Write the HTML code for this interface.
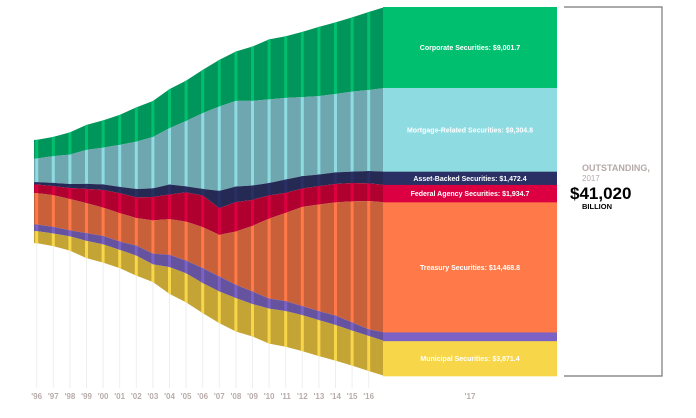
<!DOCTYPE html>
<html><head><meta charset="utf-8"><style>
body{margin:0;background:#fff;}
svg{display:block;font-family:"Liberation Sans",sans-serif;}
</style></head><body>
<svg id="chart" width="696" height="418">
<g id="grid"></g><g id="areas"></g><g id="stripes"></g><g id="block"></g><g id="xlabels"></g>
<g stroke="#777" stroke-width="1.2" fill="none">
<polyline points="564,7 662,7 662,376 564,376"/></g>
<text x="582" y="171" font-size="9" font-weight="bold" fill="#b5aaa8">OUTSTANDING,</text>
<text x="582" y="181" font-size="8" fill="#b5aaa8">2017</text>
<text x="570" y="199" font-size="17" font-weight="bold" fill="#000">$41,020</text>
<text x="582" y="209" font-size="7.5" font-weight="bold" fill="#000">BILLION</text>
</svg>
<script>
const years=["'96","'97","'98","'99","'00","'01","'02","'03","'04","'05","'06","'07","'08","'09","'10","'11","'12","'13","'14","'15","'16","'17"];
const seriesNames=["Corporate Securities","Mortgage-Related Securities","Asset-Backed Securities","Federal Agency Securities","Treasury Securities","Money Market","Municipal Securities"];
const corporate=[2075,2149,2482,2779,3038,3335,3816,4001,4335,4483,4817,5187,5483,6039,6669,6854,7262,7706,7966,8262,8670,9001.7];
const mortgage=[2631,2964,3260,3779,4076,4668,5261,5706,6261,7262,8410,9374,9522,9411,9300,9077,8781,8707,8707,8892,9003,9304.8];
const assetBacked=[259,371,445,556,630,704,926,963,1112,667,741,1927,1741,1593,1371,1482,1371,1297,1297,1260,1371,1472.4];
const agency=[963,1000,1223,1593,1964,2223,2297,2594,2742,3260,3520,2964,3260,2890,2594,2223,2038,2038,2038,2038,1964,1934.7];
const treasury=[3483,3520,3483,3335,3149,3149,3075,3705,3964,4335,4557,4631,5928,7299,8892,9818,11041,11856,12597,13449,14264,14468.8];
const moneyMarket=[741,741,667,852,926,926,1112,1186,1371,1408,1667,1667,1482,1408,1112,1112,1000,1000,1037,926,741,966.2];
const municipal=[1334,1408,1593,1927,2038,2038,2223,1964,2964,3223,3335,3520,3705,3594,3890,3964,4001,4001,3964,3890,3890,3871.4];
const labels=["Corporate Securities: $9,001.7","Mortgage-Related Securities: $9,304.8","Asset-Backed Securities: $1,472.4","Federal Agency Securities: $1,934.7","Treasury Securities: $14,468.8","","Municipal Securities: $3,871.4"];
const series=[corporate,mortgage,assetBacked,agency,treasury,moneyMarket,municipal];
const dark=["#00955a","#6fa7b0","#252a55","#b0002f","#c8603a","#6553a0","#c4a435"];
const bright=["#00bf6f","#8fdbe2","#2a3064","#dc0043","#ff7a48","#7b62c4","#f7d64a"];
const NS="http://www.w3.org/2000/svg";
const k=369/41020, cy=191.5;
const xOf=i=>i<21?36.7+i*16.6:385;
const n=years.length;
const totals=years.map((_,i)=>series.reduce((s,a)=>s+a[i],0));
const tops=years.map((_,i)=>cy-totals[i]*k/2);
function mk(t,a,p){const e=document.createElementNS(NS,t);for(const q in a)e.setAttribute(q,a[q]);(p||document.getElementById('chart')).appendChild(e);return e;}
// grid lines
const grid=document.getElementById('grid');
for(let i=0;i<21;i++){const l=mk('line',{x1:xOf(i),x2:xOf(i),y1:150,y2:388,stroke:'#eeeeee','stroke-width':1},grid);

}
// clip for stripes
const defs=mk('defs',{});
const cp=mk('clipPath',{id:'stripeClip'},defs);
for(let i=0;i<21;i++)mk('rect',{x:xOf(i)-1.5,y:0,width:3,height:418},cp);
const areas=document.getElementById('areas'),stripes=document.getElementById('stripes');
stripes.setAttribute('clip-path','url(#stripeClip)');
let cum=years.map(()=>0);
const bounds=[];
series.forEach((s,si)=>{
 const y0=years.map((_,i)=>tops[i]+cum[i]*k);
 cum=cum.map((c,i)=>c+s[i]);
 const y1=years.map((_,i)=>tops[i]+cum[i]*k);
 bounds.push([y0[n-1],y1[n-1]]);
 let d='M34,'+y0[0];
 for(let i=0;i<n;i++)d+=' L'+xOf(i)+','+y0[i];
 for(let i=n-1;i>=0;i--)d+=' L'+xOf(i)+','+y1[i];
 d+=' L34,'+y1[0]+'Z';
 const a=mk('path',{d:d,fill:dark[si]},areas);
 
 
 const b=mk('path',{d:d,fill:bright[si]},stripes);
 
 
});
const block=document.getElementById('block');
series.forEach((s,si)=>{
 const [a,b]=bounds[si];
 const r=mk('rect',{x:383,y:a,width:174,height:b-a+0.3,fill:bright[si]},block);
 
 
 if(labels[si]){
  const t=mk('text',{x:470,y:(a+b)/2+2.5,'text-anchor':'middle','font-size':7,'font-weight':'bold',fill:'#fff'},block);
  t.textContent=labels[si];
  
  
 }
});
const xl=document.getElementById('xlabels');
years.forEach((y,i)=>{
 const t=mk('text',{x:i<21?xOf(i):470,y:399,'text-anchor':'middle','font-size':8,'font-weight':'bold',fill:'#b7acab'},xl);
 t.textContent=y;
 
 
});
</script>
</body></html>
